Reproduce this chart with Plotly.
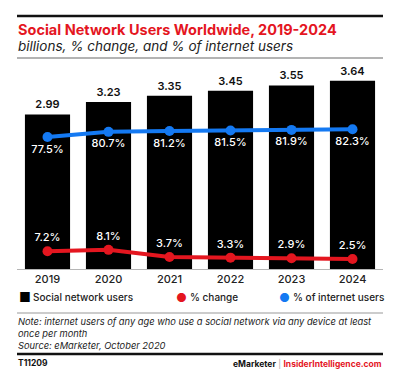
import plotly.graph_objects as go

years = ["2019", "2020", "2021", "2022", "2023", "2024"]
users_bn = [2.99, 3.23, 3.35, 3.45, 3.55, 3.64]
pct_change = [7.2, 8.1, 3.7, 3.3, 2.9, 2.5]
pct_internet = [77.5, 80.7, 81.2, 81.5, 81.9, 82.3]

# page offset of the plot div (default body margin)
OFF = 8
W, H = 393 - 2 * OFF, 383 - 2 * OFF
# plot area in page pixels
PL, PR, PT, PB = 17, 383, 70, 269
L, R, T, B = PL - OFF, W - (PR - OFF), PT - OFF, H - (PB - OFF)
PW = PR - PL
PH = PB - PT
FONT = "Inter"
RED = "#e4161f"
BLUE = "#1479f2"


def px(x):
    return (x - PL) / PW


def py(y):
    return (PB - y) / PH


fig = go.Figure()
fig.add_trace(go.Bar(
    x=years, y=users_bn, marker_color="#000000", marker_line_width=0,
    text=[f"{v:.2f}" for v in users_bn], textposition="outside",
    textfont=dict(size=11, color="#111", family=FONT, weight=600),
    cliponaxis=False, showlegend=False, yaxis="y",
))
fig.add_trace(go.Scatter(
    x=years, y=pct_internet, mode="lines+markers+text",
    line=dict(color=BLUE, width=4), marker=dict(color=BLUE, size=10),
    text=[f"{v:.1f}%" for v in pct_internet], textposition="bottom center",
    textfont=dict(size=11, color="white", family=FONT, weight=500),
    showlegend=False, yaxis="y2", cliponaxis=False,
))
fig.add_trace(go.Scatter(
    x=years, y=pct_change, mode="lines+markers+text",
    line=dict(color=RED, width=4), marker=dict(color=RED, size=10),
    text=[f"{v:.1f}%" for v in pct_change], textposition="top center",
    textfont=dict(size=11, color="white", family=FONT, weight=500),
    showlegend=False, yaxis="y2", cliponaxis=False,
))

y_top = PH / 51.7
y2_lo = -6 / 1.625
y2_hi = (PH - 6) / 1.625

fig.update_layout(
    width=W, height=H,
    margin=dict(l=L, r=R, t=T, b=B, pad=0),
    paper_bgcolor="white", plot_bgcolor="white",
    bargap=0.26,
    font=dict(family=FONT, color="#222"),
    xaxis=dict(showgrid=False, showline=True, linecolor="#b5b5b5", linewidth=1,
               ticks="", tickfont=dict(size=11, color="#222", family=FONT, weight=500),
               fixedrange=True),
    yaxis=dict(range=[0, y_top], visible=False, showgrid=False),
    yaxis2=dict(range=[y2_lo, y2_hi], visible=False, showgrid=False,
                overlaying="y"),
)

shapes = [
    dict(type="line", xref="paper", yref="paper", x0=0, x1=1, y0=py(16), y1=py(16),
         line=dict(color="#111", width=2.5)),
    dict(type="line", xref="paper", yref="paper", x0=0, x1=1, y0=py(58), y1=py(58),
         line=dict(color="#9a9a9a", width=1.5)),
    dict(type="line", xref="paper", yref="paper", x0=0, x1=1, y0=py(313), y1=py(313),
         line=dict(color="#9a9a9a", width=1.2)),
    dict(type="line", xref="paper", yref="paper", x0=0, x1=1, y0=py(354), y1=py(354),
         line=dict(color="#111", width=2.5)),
]
fig.update_layout(shapes=shapes)


def ann(text, x, y, size, color="#222", xanchor="left", weight=None, italic=False):
    f = dict(size=size, color=color, family=FONT)
    if weight:
        f["weight"] = weight
    if italic:
        f["style"] = "italic"
    fig.add_annotation(text=text, x=px(x), y=py(y), xref="paper", yref="paper",
                       xanchor=xanchor, yanchor="middle", showarrow=False, font=f)


ann("Social Network Users Worldwide, 2019-2024", 16, 29, 14.5, RED, weight=700)
ann("billions, % change, and % of internet users", 16, 46, 13.5, "#222", italic=True)

# legend
ann("<span style='font-size:13px'>■</span>", 17, 297, 12, "#000")
ann("Social network users", 31, 297, 10, "#222", weight=500)
ann("<span style='color:%s'>●</span>" % RED, 174, 297, 12, RED)
ann("% change", 188, 297, 10, "#222", weight=500)
ann("<span style='color:%s'>●</span>" % BLUE, 277, 297, 12, BLUE)
ann("% of internet users", 291, 297, 10, "#222", weight=500)

ann("Note: internet users of any age who use a social network via any device at least", 16, 321, 9.3, "#222", italic=True)
ann("once per month", 16, 333, 9.3, "#222", italic=True)
ann("Source: eMarketer, October 2020", 16, 345, 9.3, "#222", italic=True)

ann("T11209", 16, 363, 8.5, "#111", weight=700)
ann("<b>eMarketer</b> <span style='color:#aaa'>|</span> <span style='color:%s'><b>InsiderIntelligence.com</b></span>" % RED,
    384, 363, 8.5, "#111", xanchor="right")

fig.write_html("out.html")
